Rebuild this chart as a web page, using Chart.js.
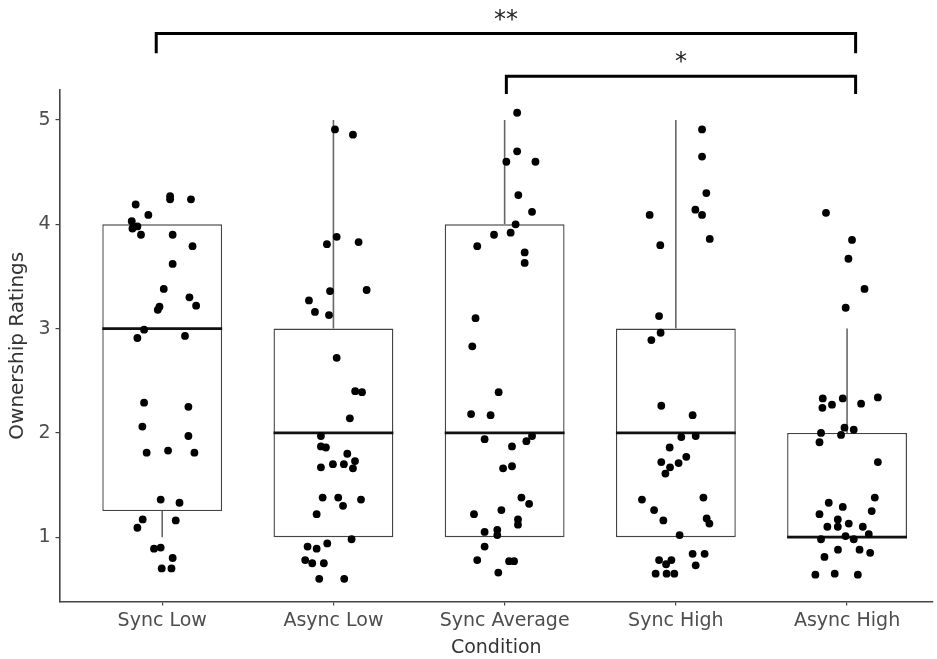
<!DOCTYPE html>
<html>
<head>
<meta charset="utf-8">
<script src="https://cdn.jsdelivr.net/npm/chart.js"></script>
<style>
    body { margin: 0; background: #fff; }
</style>
</head>
<body>
<canvas id="ownership-chart" width="937" height="659"></canvas>

<script>
// Conditions along the x axis
var conditions = ['Sync Low', 'Async Low', 'Sync Average', 'Sync High', 'Async High'];

// Box plot summary per condition
var lowerWhisker = [1, 1, 1, 1, 1];
var q1 = [1.25, 1, 1, 1, 1];
var median = [3, 2, 2, 2, 1];
var q3 = [4, 3, 4, 3, 2];
var upperWhisker = [4, 5, 5, 5, 3];

// Individual ratings (jittered), one list per condition
var ratingsSyncLow = [4.19, 4.09, 4.27, 4.24, 4.24, 4.03, 3.96, 3.98, 3.90, 3.90, 3.79, 3.62, 3.38, 3.21, 3.18, 3.30, 3.22, 2.99, 2.91, 2.93,
    2.29, 2.25, 2.06, 1.97, 1.81, 1.83, 1.81, 1.36, 1.33, 1.17, 1.09, 1.16, 0.89, 0.90, 0.80, 0.70, 0.70];
var jitterSyncLow = [-0.155, -0.081, 0.046, 0.046, 0.168, -0.178, -0.174, -0.145, -0.124, 0.061, 0.177, 0.061, 0.009, -0.016, -0.026, 0.159, 0.198, -0.106, -0.145, 0.133,
    -0.106, 0.153, -0.116, 0.153, -0.091, 0.034, 0.188, -0.009, 0.101, -0.114, -0.145, 0.079, -0.048, -0.009, 0.061, -0.003, 0.054];

var ratingsAsyncLow = [4.91, 4.86, 3.88, 3.81, 3.83, 3.36, 3.37, 3.27, 3.16, 3.13, 2.72, 2.40, 2.39, 2.14, 1.97, 1.87, 1.86, 1.80, 1.73,
    1.67, 1.70, 1.70, 1.66, 1.38, 1.38, 1.36, 1.30, 1.22, 0.98, 0.94, 0.91, 0.89, 0.78, 0.75, 0.75, 0.60, 0.60];
var jitterAsyncLow = [0.009, 0.114, 0.019, -0.038, 0.147, -0.020, 0.194, -0.143, -0.108, -0.026, 0.019, 0.127, 0.167, 0.096, -0.073, -0.073, -0.044, 0.081, 0.126,
    -0.073, -0.003, 0.061, 0.114, -0.063, 0.028, 0.161, 0.056, -0.098, 0.106, -0.036, -0.151, -0.098, -0.165, -0.124, -0.056, -0.083, 0.063];

var ratingsSyncAverage = [5.07, 4.70, 4.60, 4.60, 4.28, 4.12, 4.00, 3.90, 3.92, 3.79, 3.73, 3.63, 3.10, 2.83, 2.39, 2.18, 2.17, 1.97, 1.94,
    1.92, 1.87, 1.66, 1.68, 1.38, 1.32, 1.22, 1.26, 1.17, 1.12, 1.05, 1.07, 1.02, 0.91, 0.78, 0.77, 0.77, 0.66];
var jitterSyncAverage = [0.073, 0.073, 0.010, 0.180, 0.080, 0.160, 0.064, -0.062, 0.035, -0.160, 0.117, 0.117, -0.170, -0.189, -0.035, -0.196, -0.082, 0.160, -0.117,
    0.127, 0.043, -0.009, 0.043, 0.098, 0.143, -0.179, -0.019, 0.078, 0.078, -0.117, -0.043, -0.043, -0.117, -0.160, 0.026, 0.055, -0.037];

var ratingsSyncHigh = [4.91, 4.65, 4.30, 4.09, 4.14, 4.09, 3.86, 3.80, 3.12, 2.96, 2.89, 2.26, 2.17, 1.96, 1.97, 1.86, 1.77, 1.72, 1.71,
    1.67, 1.61, 1.36, 1.38, 1.26, 1.16, 1.18, 1.13, 1.02, 0.84, 0.84, 0.73, 0.78, 0.78, 0.74, 0.65, 0.65, 0.65];
var jitterSyncHigh = [0.153, 0.153, 0.178, -0.153, 0.114, 0.153, 0.198, -0.091, -0.098, -0.089, -0.143, -0.085, 0.098, 0.032, 0.116, -0.036, 0.061, -0.085, 0.016,
    -0.034, -0.061, -0.198, 0.161, -0.127, -0.073, 0.180, 0.196, 0.022, 0.098, 0.168, 0.116, -0.098, -0.026, -0.057, -0.118, -0.054, -0.009];

var ratingsAsyncHigh = [4.11, 3.85, 3.67, 3.38, 3.20, 2.33, 2.33, 2.34, 2.24, 2.27, 2.28, 2.05, 2.03, 1.98, 2.00, 1.91, 1.72, 1.33, 1.29,
    1.38, 1.25, 1.22, 1.17, 1.13, 1.10, 1.10, 1.10, 1.03, 1.01, 0.98, 0.98, 0.88, 0.88, 0.85, 0.81, 0.64, 0.65, 0.64];
var jitterAsyncHigh = [-0.123, 0.029, 0.008, 0.102, -0.008, -0.142, -0.025, 0.180, -0.144, -0.088, 0.082, -0.015, 0.039, -0.035, -0.152, -0.161, 0.180, -0.107, -0.025,
    0.162, 0.144, -0.161, -0.054, 0.010, -0.115, -0.054, 0.092, 0.127, -0.009, -0.152, 0.039, -0.053, 0.073, 0.135, -0.132, -0.185, -0.072, 0.063];

// Significance brackets (x in condition units, y in rating units)
var bracketStart = [-0.035, 2.01];
var bracketEnd = [4.05, 4.05];
var bracketTop = [5.83, 5.42];
var bracketFoot = [5.64, 5.25];
var bracketLabel = ['**', '*'];
var bracketLabelY = [5.95, 5.55];

var yTicks = [1, 2, 3, 4, 5];

document.addEventListener("DOMContentLoaded", function() {
    var fontFamily = "'DejaVu Sans', sans-serif";
    var halfBox = 0.35;

    var ratings = [ratingsSyncLow, ratingsAsyncLow, ratingsSyncAverage, ratingsSyncHigh, ratingsAsyncHigh];
    var jitter = [jitterSyncLow, jitterAsyncLow, jitterSyncAverage, jitterSyncHigh, jitterAsyncHigh];

    var boxes = [], medians = [], whiskers = [], points = [];
    conditions.forEach(function(c, i) {
        boxes.push({x: i, y: [q1[i], q3[i]]});
        medians.push({x: i - halfBox, y: median[i]}, {x: i + halfBox, y: median[i]}, {x: i, y: null});
        if (upperWhisker[i] > q3[i]) {
            whiskers.push({x: i, y: q3[i]}, {x: i, y: upperWhisker[i]}, {x: i, y: null});
        }
        if (lowerWhisker[i] < q1[i]) {
            whiskers.push({x: i, y: q1[i]}, {x: i, y: lowerWhisker[i]}, {x: i, y: null});
        }
        ratings[i].forEach(function(v, k) {
            points.push({x: i + jitter[i][k], y: v});
        });
    });

    var brackets = [];
    bracketStart.forEach(function(s, i) {
        brackets.push({x: s, y: bracketFoot[i]}, {x: s, y: bracketTop[i]},
            {x: bracketEnd[i], y: bracketTop[i]}, {x: bracketEnd[i], y: bracketFoot[i]}, {x: s, y: null});
    });

    // stars above each bracket
    var starLabels = {
        id: 'starLabels',
        afterDatasetsDraw: function(chart) {
            var ctx = chart.ctx, xs = chart.scales.x, ys = chart.scales.y;
            ctx.save();
            ctx.fillStyle = '#222';
            ctx.font = '24px ' + fontFamily;
            ctx.textAlign = 'center';
            ctx.textBaseline = 'middle';
            bracketLabel.forEach(function(t, i) {
                var cx = xs.getPixelForValue((bracketStart[i] + bracketEnd[i]) / 2);
                ctx.fillText(t, cx, ys.getPixelForValue(bracketLabelY[i]));
            });
            ctx.restore();
        }
    };

    var ctx = document.getElementById('ownership-chart').getContext('2d');
    var chart = new Chart(ctx, {
        type: 'bar',
        data: {
            datasets: [{
                type: 'scatter',
                data: points,
                backgroundColor: '#000',
                borderWidth: 0,
                pointRadius: 3.9,
                order: 0
            }, {
                type: 'line',
                data: medians,
                borderColor: '#111',
                borderWidth: 2.6,
                pointRadius: 0,
                spanGaps: false,
                order: 1
            }, {
                type: 'line',
                data: whiskers,
                borderColor: '#666',
                borderWidth: 1.6,
                pointRadius: 0,
                spanGaps: false,
                order: 2
            }, {
                type: 'bar',
                data: boxes,
                backgroundColor: '#fff',
                borderColor: '#444',
                borderWidth: 1.4,
                borderSkipped: false,
                barPercentage: 0.7,
                categoryPercentage: 1,
                order: 3
            }, {
                type: 'line',
                data: brackets,
                borderColor: '#000',
                borderWidth: 3,
                pointRadius: 0,
                spanGaps: false,
                clip: false,
                order: 4
            }]
        },
        options: {
            responsive: false,
            animation: false,
            layout: { padding: { top: 90, left: 0, right: 0, bottom: 0 } },
            plugins: {
                legend: { display: false },
                tooltip: { enabled: false }
            },
            scales: {
                x: {
                    type: 'linear',
                    offset: false,
                    min: -0.6,
                    max: 4.502,
                    afterFit: function(s) { s.height = 57.5; },
                    afterBuildTicks: function(s) {
                        s.ticks = conditions.map(function(c, i) { return {value: i}; });
                    },
                    ticks: {
                        callback: function(v) { return conditions[v]; },
                        color: '#4d4d4d',
                        font: { family: fontFamily, size: 19 },
                        padding: 4,
                        maxRotation: 0,
                        autoSkip: false
                    },
                    grid: { offset: false, drawOnChartArea: false, drawTicks: true, tickLength: 4, color: '#444', lineWidth: 1.2 },
                    border: { display: true, color: '#444', width: 1.6 },
                    title: {
                        display: true,
                        text: 'Condition',
                        color: '#333',
                        font: { family: fontFamily, size: 19 },
                        padding: { top: 0, bottom: 0 }
                    }
                },
                y: {
                    min: 0.383,
                    max: 5.288,
                    afterFit: function(s) { s.width = 59.5; },
                    afterBuildTicks: function(s) {
                        s.ticks = yTicks.map(function(v) { return {value: v}; });
                    },
                    ticks: {
                        color: '#4d4d4d',
                        font: { family: fontFamily, size: 19 },
                        padding: 5
                    },
                    grid: { drawOnChartArea: false, drawTicks: true, tickLength: 4, color: '#444', lineWidth: 1.2 },
                    border: { display: true, color: '#444', width: 1.6 },
                    title: {
                        display: true,
                        text: 'Ownership Ratings',
                        color: '#333',
                        font: { family: fontFamily, size: 20 },
                        padding: { top: 6, bottom: 0 }
                    }
                }
            }
        },
        plugins: [starLabels]
    });
});
</script>
</body>
</html>
